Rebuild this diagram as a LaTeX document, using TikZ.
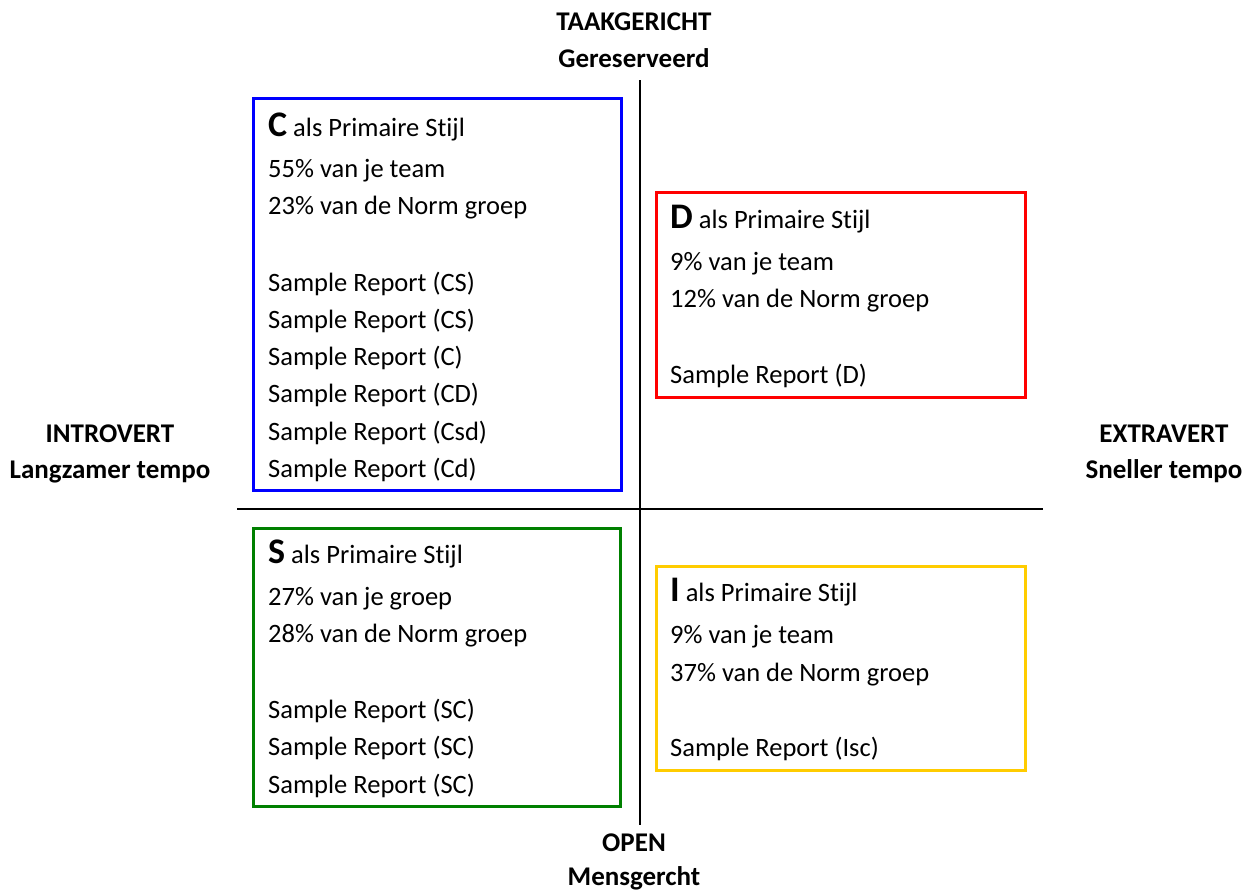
\documentclass[tikz,border=0pt]{standalone}
\usepackage{fontspec}
\setmainfont{Carlito}[Ligatures={NoCommon}]
\definecolor{boxblue}{RGB}{0,0,255}
\definecolor{boxred}{RGB}{255,0,0}
\definecolor{boxgreen}{RGB}{0,128,0}
\definecolor{boxyellow}{RGB}{255,204,0}
\tikzset{
  quad/.style={draw=#1, line width=3pt},
  body/.style={anchor=base west, inner sep=0pt, font=\fontsize{26.5}{30}\selectfont},
  axislbl/.style={anchor=base, inner sep=0pt, font=\fontsize{27}{30}\selectfont\bfseries},
  axisline/.style={line width=1.5pt, black},
}
\newcommand{\bigletter}[1]{{\fontsize{36}{36}\selectfont\bfseries #1}}
\begin{document}
\begin{tikzpicture}[x=1pt, y=-1pt]
\useasboundingbox (0,0) rectangle (1243,892);
% axes
\coordinate (vtop) at (640,80);
\coordinate (vbot) at (640,825);
\coordinate (hl) at (237,509);
\coordinate (hr) at (1043,509);
\draw[axisline] (vtop) -- (vbot);
\draw[axisline] (hl) -- (hr);
% axis labels
\node[axislbl] (taak) at (634,30) {TAAKGERICHT};
\node[axislbl] (geres) at (634,67) {Gereserveerd};
\node[axislbl] (intro) at (110,442) {INTROVERT};
\node[axislbl] (langz) at (110,478) {Langzamer tempo};
\node[axislbl] (extra) at (1164,442) {EXTRAVERT};
\node[axislbl] (snel) at (1164,478) {Sneller tempo};
\node[axislbl] (open) at (634,851) {OPEN};
\node[axislbl] (mens) at (634,885) {Mensgercht};
% boxes
\draw[quad=boxblue] (253,98) rectangle (621,490);
\draw[quad=boxred] (656,192) rectangle (1025,397);
\draw[quad=boxgreen] (253,528) rectangle (620,806);
\draw[quad=boxyellow] (656,566) rectangle (1025,770);
% C box
\node[body] (c0) at (268,136) {\bigletter{C} als Primaire Stijl};
\node[body] (c1) at (268,177) {55\% van je team};
\node[body] (c2) at (268,214) {23\% van de Norm groep};
\node[body] (c3) at (268,291) {Sample Report (CS)};
\node[body] (c4) at (268,328.3) {Sample Report (CS)};
\node[body] (c5) at (268,365.6) {Sample Report (C)};
\node[body] (c6) at (268,402.9) {Sample Report (CD)};
\node[body] (c7) at (268,440.2) {Sample Report (Csd)};
\node[body] (c8) at (268,477.5) {Sample Report (Cd)};
% D box
\node[body] (d0) at (670,228) {\bigletter{D} als Primaire Stijl};
\node[body] (d1) at (670,270) {9\% van je team};
\node[body] (d2) at (670,307) {12\% van de Norm groep};
\node[body] (d3) at (670,383) {Sample Report (D)};
% S box
\node[body] (s0) at (268,563) {\bigletter{S} als Primaire Stijl};
\node[body] (s1) at (268,605) {27\% van je groep};
\node[body] (s2) at (268,642) {28\% van de Norm groep};
\node[body] (s3) at (268,718.5) {Sample Report (SC)};
\node[body] (s4) at (268,755.8) {Sample Report (SC)};
\node[body] (s5) at (268,793.1) {Sample Report (SC)};
% I box
\node[body] (i0) at (670,601) {\bigletter{I} als Primaire Stijl};
\node[body] (i1) at (670,643) {9\% van je team};
\node[body] (i2) at (670,681) {37\% van de Norm groep};
\node[body] (i3) at (670,756) {Sample Report (Isc)};
\end{tikzpicture}
\end{document}
